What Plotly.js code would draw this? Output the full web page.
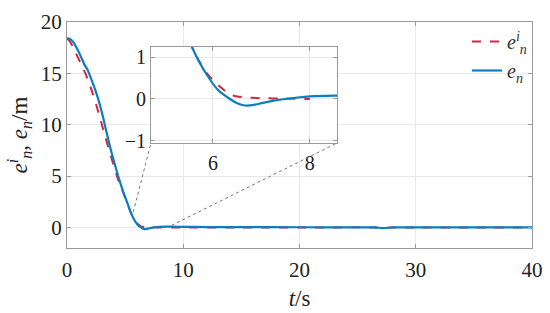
<!DOCTYPE html>
<html>
<head>
<meta charset="utf-8">
<script src="https://cdn.plot.ly/plotly-3.0.1.min.js"></script>
<style>html,body{margin:0;padding:0;background:#fff;}
#preload{position:absolute;left:4px;top:4px;z-index:0;font-family:'Liberation Serif';font-size:20px;color:#000;}
#chart{position:absolute;left:0;top:0;z-index:1;width:550px;height:313px;}
#chart svg text, #chart svg tspan{font-family:'Liberation Serif', serif !important;}</style>
</head>
<body>
<div id="preload">0<i>e</i></div>
<div id="chart"></div>
<script>
// reference signal e_n^i
const tRef = [0, 0.25, 0.5, 0.75, 1.0, 1.25, 1.5, 1.6, 1.75, 2.0, 2.25, 2.5, 2.75, 3.0, 3.25, 3.5, 3.75, 4.0, 4.3, 4.4, 4.75, 5.0, 5.25, 5.4, 5.55, 5.7, 5.87, 6.0, 6.14, 6.35, 6.5, 6.66, 6.97, 7.5, 8.0, 10, 15, 20, 26.5, 27.2, 28, 30, 40];
const eRef = [18.4, 18.1, 17.6, 17.0, 16.4, 15.8, 15.2, 14.95, 14.5, 13.75, 12.9, 12.0, 11.0, 10.0, 9.0, 8.0, 7.05, 6.1, 5.0, 4.65, 3.65, 2.9, 2.2, 1.7, 1.28, 0.93, 0.62, 0.45, 0.3, 0.1, 0.06, 0.04, 0.02, 0.01, 0.0, 0.0, 0.0, 0.0, 0.0, -0.05, 0.0, 0.0, 0.0];
// actual signal e_n
const tAct = [0, 0.25, 0.5, 0.75, 1.0, 1.25, 1.5, 1.75, 1.9, 2.25, 2.5, 2.75, 3.0, 3.25, 3.5, 3.75, 4.0, 4.25, 4.4, 4.75, 5.0, 5.25, 5.4, 5.55, 5.7, 5.9, 6.1, 6.35, 6.5, 6.66, 6.85, 7.0, 7.25, 7.5, 7.75, 8.0, 8.5, 9.0, 10, 12, 15, 20, 25, 26.5, 27.2, 28, 30, 40];
const eAct = [18.4, 18.35, 18.1, 17.65, 17.1, 16.5, 15.85, 15.4, 15.0, 13.95, 13.15, 12.25, 11.2, 10.0, 8.8, 7.65, 6.6, 5.6, 5.0, 3.75, 2.95, 2.2, 1.7, 1.28, 0.92, 0.53, 0.22, 0.0, -0.1, -0.155, -0.14, -0.1, -0.04, 0.0, 0.035, 0.06, 0.08, 0.08, 0.06, 0.04, 0.03, 0.02, 0.01, 0.0, -0.06, 0.0, 0.01, 0.0];

const xTicks = [0, 10, 20, 30, 40];
const yTicks = [0, 5, 10, 15, 20];
const xTicksIn = [6, 8];
const yTicksIn = [-1, 0, 1];

const RED = '#D2283F', BLUE = '#0A7EC2';
const FONT = 'Liberation Serif';
const xRange = [0, 40], yRange = [-2, 20];
const xRangeIn = [4.72, 8.56], yRangeIn = [-1.05, 1.24];
const insetX = [0.1806, 0.5806], insetY = [0.4646, 0.8894];

function keepIdx(t, r) { const o = []; t.forEach((v, i) => { if (v >= r[0] - 0.6 && v <= r[1] + 0.6) o.push(i); }); return o; }
const iRef = keepIdx(tRef, xRangeIn), iAct = keepIdx(tAct, xRangeIn);

function makeTraces() { return [
  {x: tRef, y: eRef, xaxis: 'x', yaxis: 'y', mode: 'lines', name: '<i>e</i><sup><i>i</i></sup><sub><i>n</i></sub>',
   line: {color: RED, width: 2, dash: 'dash', shape: 'spline', smoothing: 0.5}},
  {x: tAct, y: eAct, xaxis: 'x', yaxis: 'y', mode: 'lines', name: '<i>e</i><sub><i>n</i></sub>',
   line: {color: BLUE, width: 2.2, shape: 'spline', smoothing: 0.5}},
  {x: iRef.map(i => tRef[i]), y: iRef.map(i => eRef[i]), xaxis: 'x2', yaxis: 'y2', mode: 'lines', showlegend: false,
   line: {color: RED, width: 2, dash: 'dash', shape: 'spline', smoothing: 0.5}},
  {x: iAct.map(i => tAct[i]), y: iAct.map(i => eAct[i]), xaxis: 'x2', yaxis: 'y2', mode: 'lines', showlegend: false,
   line: {color: BLUE, width: 2.2, shape: 'spline', smoothing: 0.5}}
]; }

function px(f, r) { return r[0] + f * (r[1] - r[0]); }
const zoomFrom = [[5.7, 1.5], [9.0, 0.2]];

function ax(size) { return {
  showline: true, linecolor: '#9a9a9a', linewidth: 1, mirror: 'ticks',
  ticks: 'inside', ticklen: 4, tickcolor: '#9a9a9a',
  showgrid: true, gridcolor: '#e8e8e8', gridwidth: 1, zeroline: false,
  tickfont: {family: FONT, size: size, color: '#222'}
}; }

function makeLayout() { return {
  width: 550, height: 313,
  margin: {l: 67, r: 18, t: 22, b: 65},
  paper_bgcolor: '#fff', plot_bgcolor: '#fff',
  font: {family: FONT, color: '#222'},
  showlegend: true,
  legend: {x: 1, xanchor: 'right', y: 1, yanchor: 'top', bgcolor: 'rgba(0,0,0,0)', borderwidth: 0,
           font: {family: FONT, size: 20, color: '#333'}},
  xaxis: Object.assign(ax(21), {range: xRange, tickmode: 'array', tickvals: xTicks, anchor: 'y', ticklabelstandoff: 3,
    title: {text: '<i>t</i>/s', font: {family: FONT, size: 23, color: '#222'}, standoff: 8}}),
  yaxis: Object.assign(ax(21), {range: yRange, tickmode: 'array', tickvals: yTicks, anchor: 'x',
    title: {text: '<i>e</i><sup><i>i</i></sup><sub><i>n</i></sub>, <i>e</i><sub><i>n</i></sub>/m', font: {family: FONT, size: 23, color: '#222'}, standoff: 6}}),
  xaxis2: Object.assign(ax(20), {domain: insetX, anchor: 'y2', range: xRangeIn, tickmode: 'array', tickvals: xTicksIn, ticklabelstandoff: 2}),
  yaxis2: Object.assign(ax(20), {domain: insetY, anchor: 'x2', range: yRangeIn, tickmode: 'array', tickvals: yTicksIn}),
  shapes: [
    {type: 'rect', xref: 'x2', yref: 'y2', x0: xRangeIn[0], x1: xRangeIn[1], y0: yRangeIn[0], y1: yRangeIn[1],
     fillcolor: '#fff', line: {width: 0}, layer: 'below'},
    {type: 'line', xref: 'x', yref: 'y', x0: zoomFrom[0][0], y0: zoomFrom[0][1], x1: px(insetX[0], xRange), y1: px(insetY[0], yRange),
     line: {color: '#777', width: 1, dash: 'dot'}},
    {type: 'line', xref: 'x', yref: 'y', x0: zoomFrom[1][0], y0: zoomFrom[1][1], x1: px(insetX[1], xRange), y1: px(insetY[0], yRange),
     line: {color: '#777', width: 1, dash: 'dot'}}
  ]
}; }

function draw() { Plotly.newPlot('chart', makeTraces(), makeLayout(), {staticPlot: true}); }
draw();
if (document.fonts && document.fonts.load) {
  Promise.all([
    document.fonts.load('21px "Liberation Serif"'),
    document.fonts.load('italic 21px "Liberation Serif"')
  ]).then(draw).catch(function () {});
}
</script>
</body>
</html>
